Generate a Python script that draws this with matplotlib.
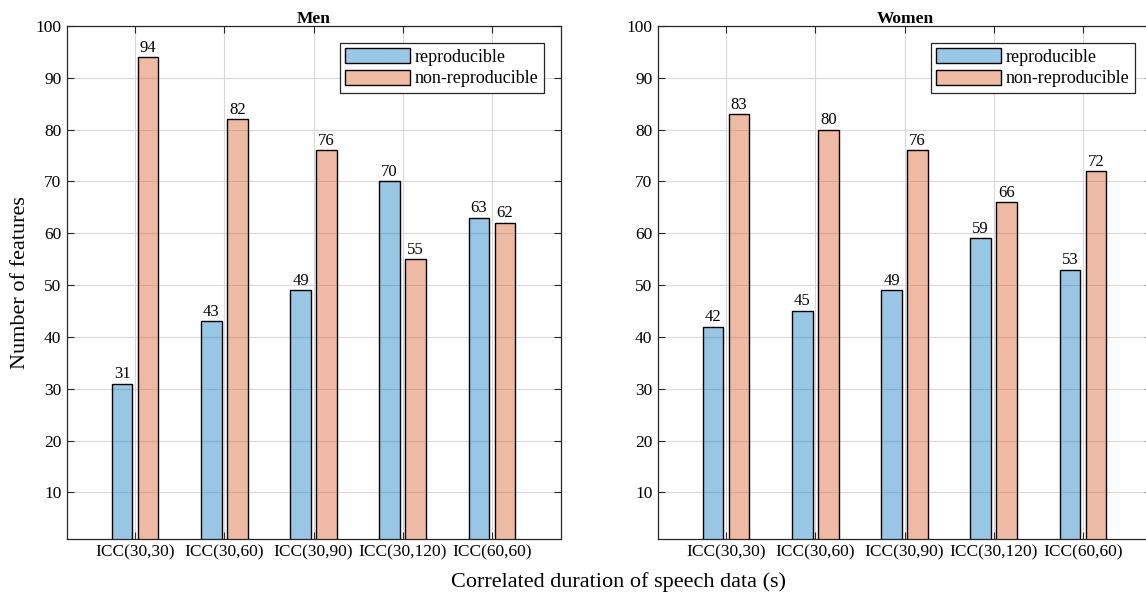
import numpy as np
import matplotlib.pyplot as plt

plt.rcParams['font.family'] = ['Liberation Serif', 'DejaVu Serif']

# datos por grupo
categories = ['ICC(30,30)', 'ICC(30,60)', 'ICC(30,90)', 'ICC(30,120)', 'ICC(60,60)']
men_repro = [31, 43, 49, 70, 63]
men_nonrepro = [94, 82, 76, 55, 62]
women_repro = [42, 45, 49, 59, 53]
women_nonrepro = [83, 80, 76, 66, 72]

blue = (0, 0.447, 0.741)
orange = (0.85, 0.325, 0.098)
axcol = '#262626'

fig = plt.figure(figsize=(11.46, 5.99), dpi=100)
W, H = 1146, 599
ax1 = fig.add_axes([67 / W, 60 / H, 494 / W, 513 / H])
ax2 = fig.add_axes([658 / W, 60 / H, 494 / W, 513 / H])


def draw_panel(ax, repro, nonrepro, title):
    x = np.arange(1, len(categories) + 1)
    w = 0.23
    off = 0.146
    ax.bar(x - off, repro, w, color=blue, alpha=0.4, edgecolor='none', zorder=2)
    ax.bar(x + off, nonrepro, w, color=orange, alpha=0.4, edgecolor='none', zorder=2)
    # bordes opacos encima del relleno transparente
    ax.bar(x - off, repro, w, fill=False, edgecolor='black', linewidth=1.0, zorder=3)
    ax.bar(x + off, nonrepro, w, fill=False, edgecolor='black', linewidth=1.0, zorder=3)
    for xi, v in zip(x - off, repro):
        ax.text(xi, v + 0.3, str(v), ha='center', va='bottom', fontsize=12, zorder=4)
    for xi, v in zip(x + off, nonrepro):
        ax.text(xi, v + 0.3, str(v), ha='center', va='bottom', fontsize=12, zorder=4)

    ax.set_xlim(0.236, 5.775)
    ax.set_ylim(1, 100)
    ax.set_xticks(x)
    ax.set_xticklabels(categories, fontsize=12.5)
    ax.set_yticks(np.arange(10, 101, 10))
    ax.tick_params(axis='y', labelsize=12.5)
    ax.tick_params(direction='in', length=5, width=0.8, color=axcol,
                   top=True, right=True, pad=4)
    ax.grid(True, color='#d8d8d8', linewidth=0.8, zorder=0)
    ax.set_axisbelow(True)
    for s in ax.spines.values():
        s.set_color(axcol)
        s.set_linewidth(0.9)
    ax.set_title(title, fontsize=12.5, fontweight='bold', pad=2)

    h1 = plt.Rectangle((0, 0), 1, 1, facecolor=(0.6, 0.78, 0.9), edgecolor='black', linewidth=1)
    h2 = plt.Rectangle((0, 0), 1, 1, facecolor=(0.94, 0.73, 0.64), edgecolor='black', linewidth=1)
    leg = ax.legend([h1, h2], ['reproducible', 'non-reproducible'], loc='upper right',
                    bbox_to_anchor=(0.965, 0.967), fontsize=13, fancybox=False,
                    framealpha=1, edgecolor=axcol, handlelength=3.6, handleheight=0.9,
                    handletextpad=0.25, borderpad=0.3, labelspacing=0.2, borderaxespad=0)
    leg.get_frame().set_linewidth(0.9)


draw_panel(ax1, men_repro, men_nonrepro, 'Men')
draw_panel(ax2, women_repro, women_nonrepro, 'Women')

ax1.set_ylabel('Number of features', fontsize=16)
fig.text(619 / W, 1 - 582 / H, 'Correlated duration of speech data (s)', ha='center',
         va='center', fontsize=16)

fig.savefig('out.png', dpi=100)
